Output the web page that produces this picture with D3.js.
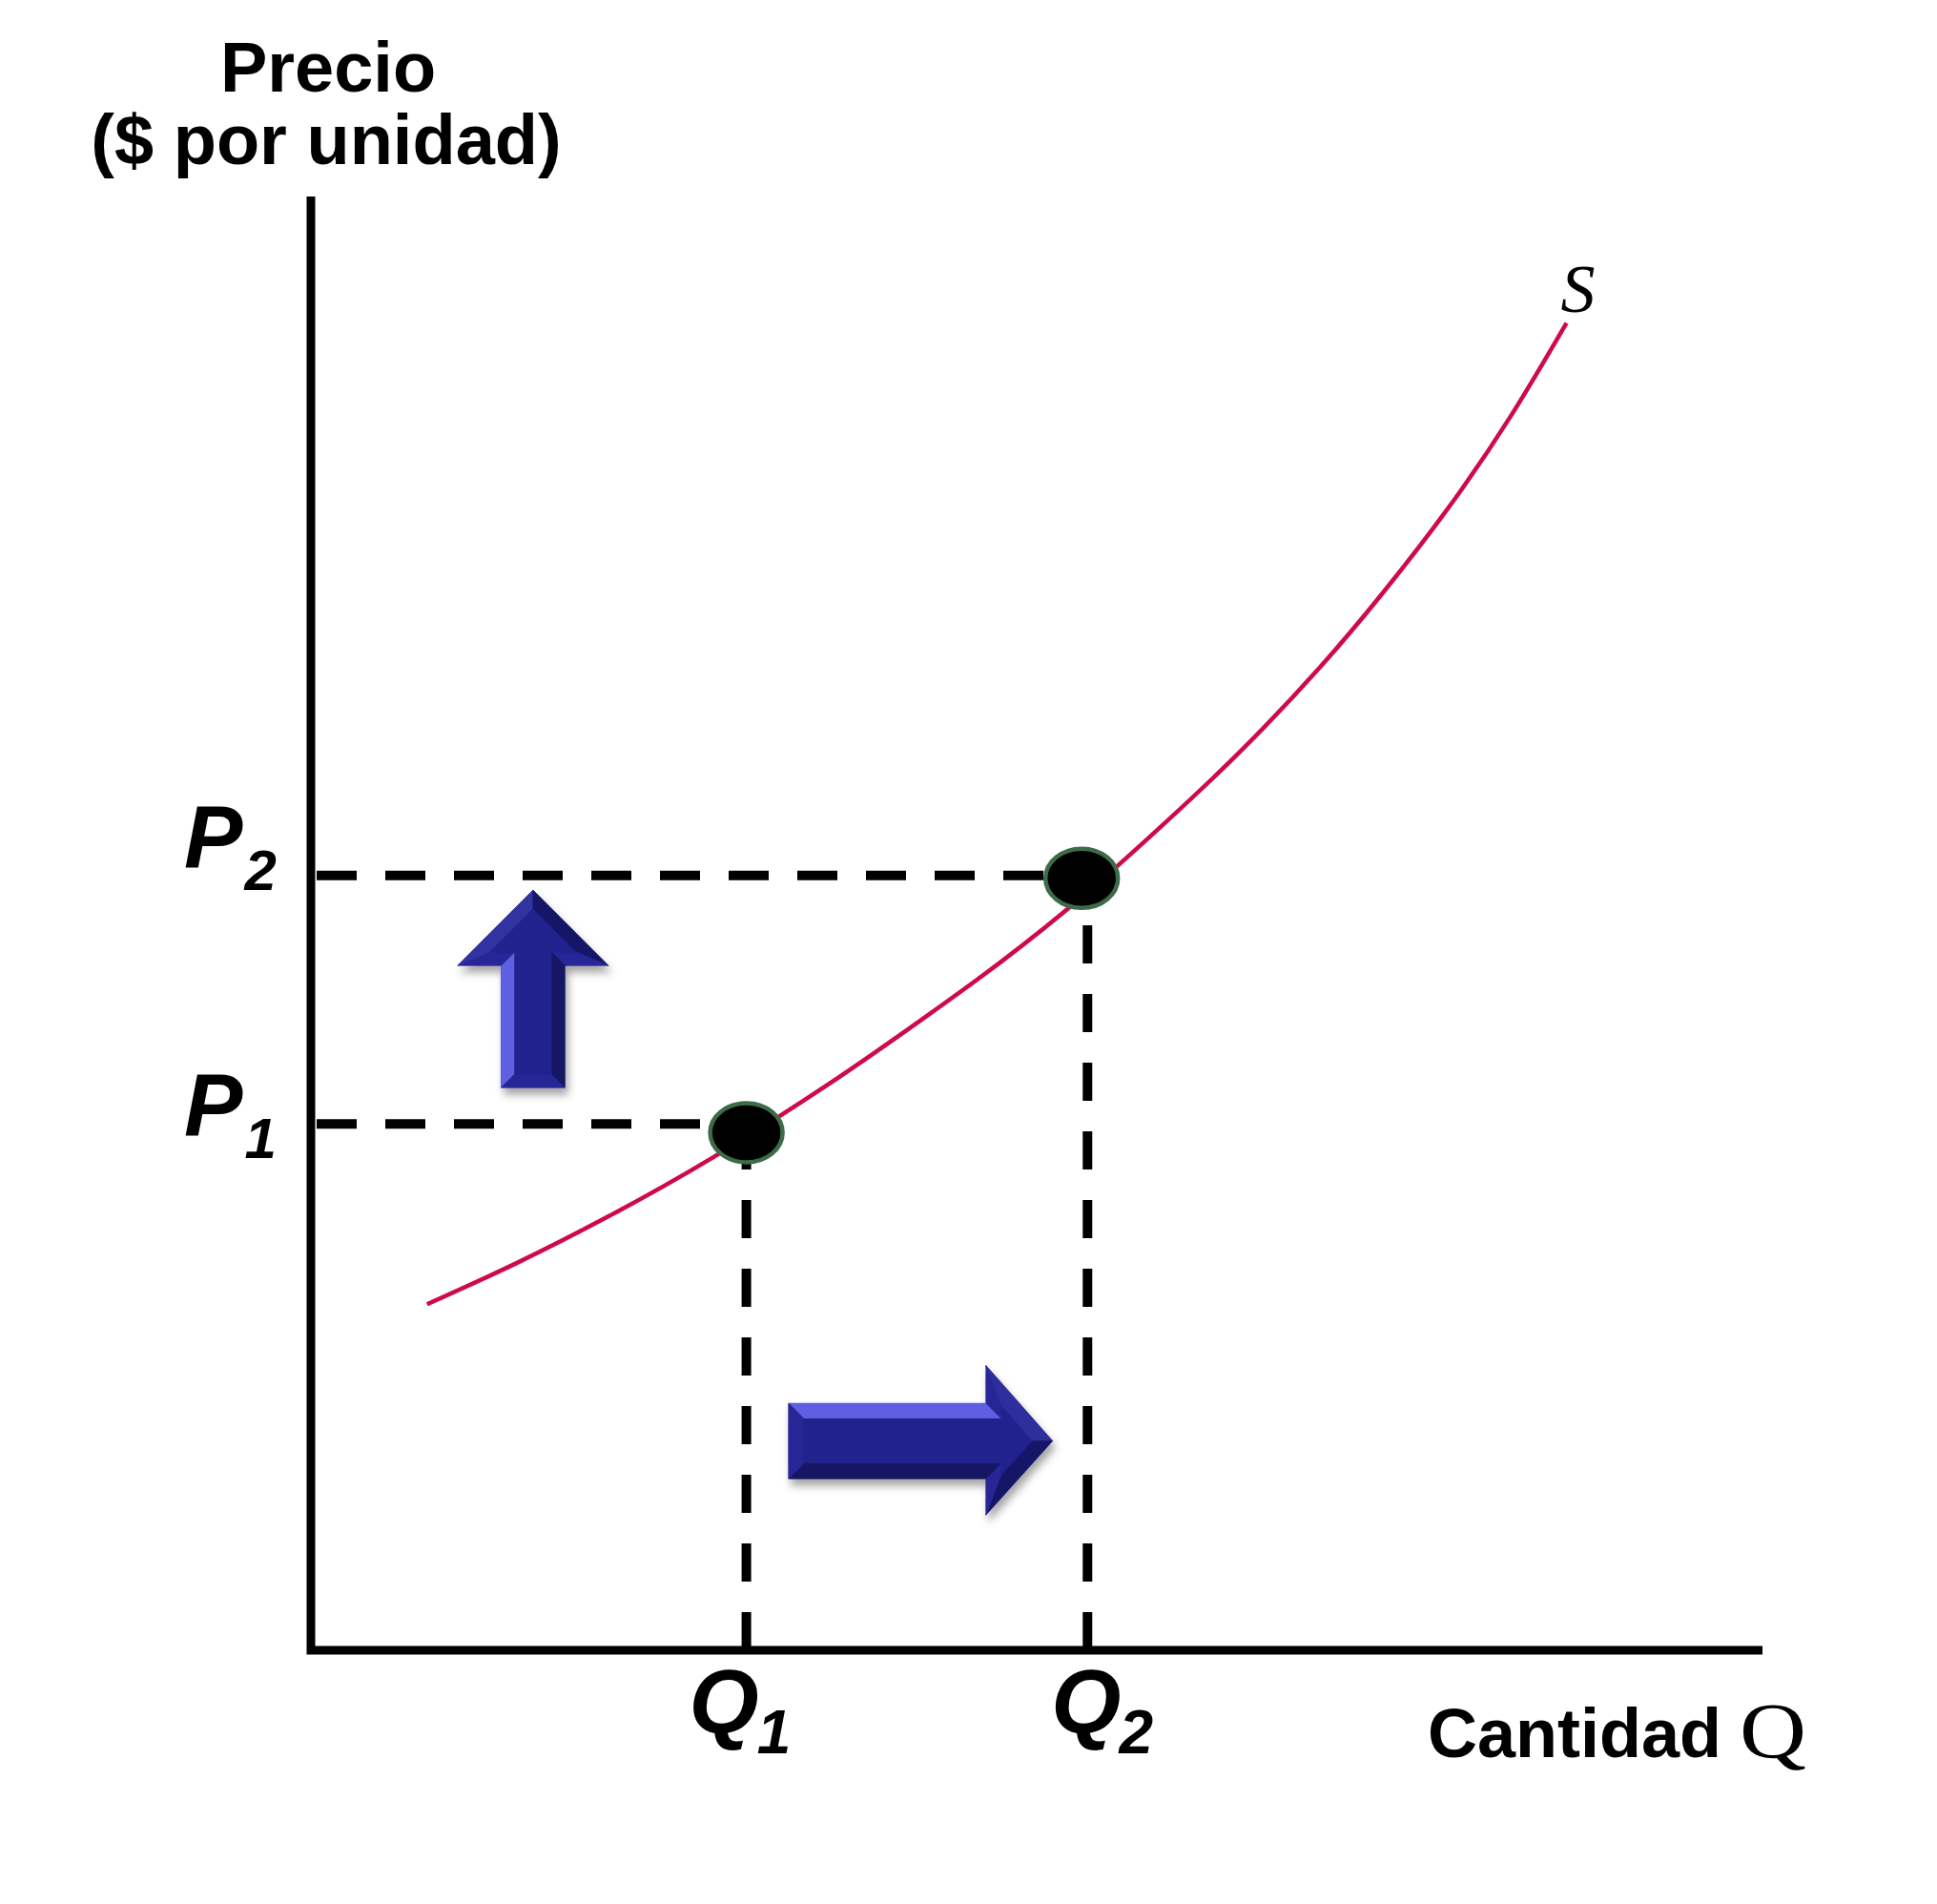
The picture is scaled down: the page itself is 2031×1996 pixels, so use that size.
<!DOCTYPE html>
<html>
<head>
<meta charset="utf-8">
<script src="https://cdn.jsdelivr.net/npm/d3@7"></script>
<style>
body{margin:0;background:#fff;}
</style>
</head>
<body>
<div id="chart"></div>
<script>
// supply curve (quantity, price) in arbitrary units 0-10
var supplyQ = [0.80,1.41,2.06,2.77,3.56,4.21,4.76,5.31,5.85,6.40,6.95,7.39,7.83,8.26,8.65];
var supplyP = [2.38,2.66,2.99,3.39,3.89,4.34,4.74,5.18,5.66,6.18,6.76,7.28,7.85,8.48,9.13];

var priceLevels = [3.62,5.33];      // P1, P2
var quantityLevels = [3.00,5.35];   // Q1, Q2
var levelNames = ["1","2"];

// the two marked points on S
var pointQ = [3.00,5.31];
var pointP = [3.56,5.31];

// arrow outlines (quantity, price)
var upArrow = [[1.31,3.87],[1.31,4.71],[1.01,4.71],[1.53,5.23],[2.05,4.71],[1.75,4.71],[1.75,3.87]];
var rightArrow = [[3.29,1.70],[4.65,1.70],[4.65,1.96],[5.11,1.44],[4.65,0.93],[4.65,1.18],[3.29,1.18]];

var W = 2031, H = 1996;
var SANS = "'Liberation Sans', Arial, sans-serif";
var SERIF = "'Liberation Serif', 'Times New Roman', serif";

var x = d3.scaleLinear().domain([0,10]).range([326,1848]);
var y = d3.scaleLinear().domain([0,10]).range([1730,206]);

var svg = d3.select("#chart").append("svg")
    .attr("width",W)
    .attr("height",H)
    .style("display","block");

var defs = svg.append("defs");
defs.append("filter")
    .attr("id","shadow")
    .attr("x","-30%").attr("y","-30%").attr("width","170%").attr("height","170%")
  .append("feDropShadow")
    .attr("dx",3).attr("dy",7).attr("stdDeviation",4)
    .attr("flood-color","#000").attr("flood-opacity",0.35);

// axes
svg.append("path")
    .attr("d","M"+x(0)+","+y(10)+"V"+y(0)+"H"+x(10))
    .attr("fill","none")
    .attr("stroke","#000")
    .attr("stroke-width",9)
    .attr("stroke-linejoin","miter");

// dashed guides
var guides = svg.append("g").attr("stroke","#000").attr("stroke-width",10).attr("fill","none");
priceLevels.forEach(function(p,i){
    guides.append("line")
        .attr("x1",x(0)+6).attr("x2",x(quantityLevels[i]))
        .attr("y1",y(p)).attr("y2",y(p))
        .attr("stroke-dasharray","42,30");
    guides.append("line")
        .attr("x1",x(quantityLevels[i])).attr("x2",x(quantityLevels[i]))
        .attr("y1",y(0)).attr("y2",y(p))
        .attr("stroke-dasharray","40,32");
});

// supply curve
var line = d3.line()
    .x(function(d){return x(d[0]);})
    .y(function(d){return y(d[1]);})
    .curve(d3.curveNatural);

svg.append("path")
    .datum(supplyQ.map(function(q,i){return [q,supplyP[i]];}))
    .attr("d",line)
    .attr("fill","none")
    .attr("stroke","#cf0a48")
    .attr("stroke-width",4.5);

var last = supplyQ.length-1;
svg.append("text")
    .attr("x",x(supplyQ[last])-6)
    .attr("y",y(supplyP[last])-12)
    .attr("font-family",SERIF)
    .attr("font-style","italic")
    .attr("font-size",72)
    .text("S");

// points
svg.selectAll("ellipse.pt")
    .data(pointQ)
  .enter().append("ellipse")
    .attr("class","pt")
    .attr("cx",function(d){return x(d);})
    .attr("cy",function(d,i){return y(pointP[i]);})
    .attr("rx",38)
    .attr("ry",31)
    .attr("fill","#000")
    .attr("stroke","#3d6b4a")
    .attr("stroke-width",4.5);

// bevelled arrows, lit from the arrow's own "top" side
var base = "#22228e";
var lightUp = d3.interpolateRgb(base,"#6666ea");
var darkDown = d3.interpolateRgb(base,"#12124e");

function drawArrow(pts, inset, L){
    var p = pts.map(function(d){return [x(d[0]),y(d[1])];});
    var n = p.length, area = 0;
    for (var i = 0; i < n; i++){
        var a = p[i], b = p[(i+1)%n];
        area += a[0]*b[1]-b[0]*a[1];
    }
    var sgn = area > 0 ? 1 : -1;
    var normals = p.map(function(a,i){
        var b = p[(i+1)%n];
        var dx = b[0]-a[0], dy = b[1]-a[1], l = Math.hypot(dx,dy);
        return [sgn*dy/l,-sgn*dx/l];
    });
    var inner = p.map(function(a,i){
        var n1 = normals[(i-1+n)%n], n2 = normals[i];
        var k = 1+n1[0]*n2[0]+n1[1]*n2[1];
        return [a[0]-inset*(n1[0]+n2[0])/k, a[1]-inset*(n1[1]+n2[1])/k];
    });
    var g = svg.append("g").attr("filter","url(#shadow)");
    g.append("path").attr("d","M"+p.join("L")+"Z").attr("fill",base);
    normals.forEach(function(nm,i){
        var j = (i+1)%n;
        var k = nm[0]*L[0]+nm[1]*L[1];
        var c = k >= 0 ? lightUp(k*k) : darkDown(-k*0.7);
        g.append("path")
            .attr("d","M"+[p[i],p[j],inner[j],inner[i]].join("L")+"Z")
            .attr("fill",c)
            .attr("stroke",c)
            .attr("stroke-width",0.5);
    });
    g.append("path").attr("d","M"+inner.join("L")+"Z").attr("fill",base);
}
drawArrow(upArrow,14,[-0.95,0.3]);
drawArrow(rightArrow,16,[-0.3,-0.95]);

// level labels
var pLabelDy = [13,-8];
priceLevels.forEach(function(p,i){
    var t = svg.append("text")
        .attr("x",x(0)-133)
        .attr("y",y(p)+pLabelDy[i])
        .attr("font-family",SANS)
        .attr("font-weight","bold")
        .attr("font-style","italic")
        .attr("font-size",92);
    t.append("tspan").text("P");
    t.append("tspan").attr("font-size",60).attr("dx",2).attr("dy",23).text(levelNames[i]);
});
var qLabelDx = [-60,-38];
quantityLevels.forEach(function(q,i){
    var t = svg.append("text")
        .attr("x",x(q)+qLabelDx[i])
        .attr("y",y(0)+86)
        .attr("font-family",SANS)
        .attr("font-weight","bold")
        .attr("font-style","italic")
        .attr("font-size",94);
    t.append("tspan").text("Q");
    t.append("tspan").attr("font-size",64).attr("dx",-2).attr("dy",22).text(levelNames[i]);
});

// axis titles
var yTitle = svg.append("text")
    .attr("text-anchor","middle")
    .attr("font-family",SANS)
    .attr("font-weight","bold")
    .attr("font-size",74);
yTitle.append("tspan").attr("x",344).attr("y",96).text("Precio");
yTitle.append("tspan").attr("x",342).attr("y",172).text("($ por unidad)");

svg.append("text")
    .attr("x",1497)
    .attr("y",y(0)+112)
    .attr("font-family",SANS)
    .attr("font-weight","bold")
    .attr("font-size",72)
    .text("Cantidad");
svg.append("text")
    .attr("x",1824)
    .attr("y",y(0)+112)
    .attr("font-family",SERIF)
    .attr("font-size",82)
    .attr("textLength",70)
    .attr("lengthAdjust","spacingAndGlyphs")
    .text("Q");
</script>
</body>
</html>
